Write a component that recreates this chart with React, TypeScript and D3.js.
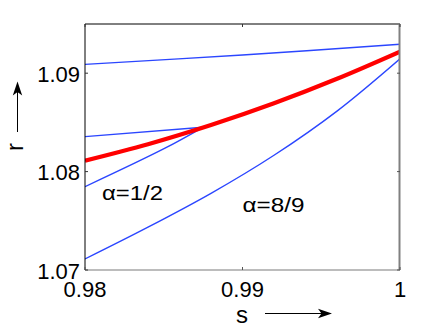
import React from "react";
import * as d3 from "d3";

// ---- data ----
const xTicks = [0.98, 0.99, 1];
const xTickLabels = ["0.98", "0.99", "1"];
const yTicks = [1.07, 1.08, 1.09];
const yTickLabels = ["1.07", "1.08", "1.09"];

// thick red envelope curve
const redS = [0.98, 0.984, 0.988, 0.992, 0.996, 1];
const redR = [1.08111, 1.08278, 1.08473, 1.08694, 1.08943, 1.09219];

// top blue line
const topS = [0.98, 0.99, 1];
const topR = [1.0909, 1.09185, 1.09294];

// short blue line meeting the red curve from above
const upperShortS = [0.98, 0.98749];
const upperShortR = [1.08355, 1.0845];

// short blue line meeting the red curve from below (alpha = 1/2)
const lowerShortS = [0.98, 0.98508, 0.98749];
const lowerShortR = [1.07847, 1.08238, 1.0845];

// lower blue curve (alpha = 8/9)
const lowS = [0.98, 0.984, 0.988, 0.992, 0.996, 1];
const lowR = [1.07112, 1.07435, 1.07779, 1.08166, 1.08615, 1.09147];

const W = 441;
const H = 327;
const L = 85, R = 400, T = 24, B = 270;

export default function App() {
  const x = d3.scaleLinear().domain([0.98, 1]).range([L, R]);
  const y = d3.scaleLinear().domain([1.07, 1.095]).range([B, T]);

  const line = d3
    .line<[number, number]>()
    .x((d) => x(d[0]))
    .y((d) => y(d[1]))
    .curve(d3.curveCatmullRom.alpha(0.5));

  const zip = (a: number[], b: number[]) => a.map((v, i) => [v, b[i]] as [number, number]);

  const blue = "#2b46ff";
  const font = "'Liberation Sans', Arial, Helvetica, sans-serif";

  return (
    <div style={{ position: "fixed", left: 0, top: 0 }}>
      <svg width={W} height={H} style={{ display: "block", background: "#fff" }}>
        <defs>
          <clipPath id="plot">
            <rect x={L} y={T} width={R - L} height={B - T} />
          </clipPath>
        </defs>
        <g clipPath="url(#plot)" fill="none">
          <path d={line(zip(topS, topR)) || ""} stroke={blue} strokeWidth={1.4} />
          <path d={line(zip(upperShortS, upperShortR)) || ""} stroke={blue} strokeWidth={1.4} />
          <path d={line(zip(lowerShortS, lowerShortR)) || ""} stroke={blue} strokeWidth={1.4} />
          <path d={line(zip(lowS, lowR)) || ""} stroke={blue} strokeWidth={1.4} />
          <path d={line(zip(redS, redR)) || ""} stroke="#ff0000" strokeWidth={4.2} />
        </g>

        {/* box */}
        <line x1={L} y1={T} x2={R} y2={T} stroke="#000" strokeWidth={1} />
        <line x1={L} y1={T} x2={L} y2={B} stroke="#000" strokeWidth={1} />
        <line x1={L} y1={B} x2={R} y2={B} stroke="#7a7a7a" strokeWidth={1.2} />
        <line x1={R - 0.5} y1={T} x2={R - 0.5} y2={B} stroke="#808080" strokeWidth={2} />

        {/* ticks */}
        {xTicks.map((t, i) => (
          <g key={"xt" + i}>
            <line x1={x(t)} x2={x(t)} y1={B} y2={B - 3} stroke="#555" />
            <line x1={x(t)} x2={x(t)} y1={T} y2={T + 3} stroke="#333" />
            <text
              x={x(t)}
              y={297}
              textAnchor="middle"
              fontFamily={font}
              fontSize={22}
              fill="#000"
            >
              {xTickLabels[i]}
            </text>
          </g>
        ))}
        {yTicks.map((t, i) => (
          <g key={"yt" + i}>
            <line x1={L} x2={L + 3} y1={y(t)} y2={y(t)} stroke="#333" />
            <line x1={R} x2={R - 3} y1={y(t)} y2={y(t)} stroke="#555" />
            <text
              x={80}
              y={y(t) + 8.5}
              textAnchor="end"
              fontFamily={font}
              fontSize={22}
              fill="#000"
            >
              {yTickLabels[i]}
            </text>
          </g>
        ))}

        {/* annotations */}
        <text
          x={102}
          y={199.5}
          fontFamily={font}
          fontSize={19.5}
          textLength={61}
          lengthAdjust="spacingAndGlyphs"
          fill="#000"
        >
          α=1/2
        </text>
        <text
          x={242.5}
          y={211.5}
          fontFamily={font}
          fontSize={19.5}
          textLength={62}
          lengthAdjust="spacingAndGlyphs"
          fill="#000"
        >
          α=8/9
        </text>

        {/* x label with arrow */}
        <text x={242} y={323} textAnchor="middle" fontFamily={font} fontSize={24} fill="#000">
          s
        </text>
        <line x1={265} y1={313.5} x2={322} y2={313.5} stroke="#000" strokeWidth={1} />
        <path d="M332,313.5 L318,308.8 L321.5,313.5 L318,318.2 Z" fill="#000" />

        {/* y label with arrow */}
        <text
          transform="translate(23,147) rotate(-90)"
          textAnchor="middle"
          fontFamily={font}
          fontSize={24}
          fill="#000"
        >
          r
        </text>
        <line x1={17.5} y1={132} x2={17.5} y2={92} stroke="#000" strokeWidth={1} />
        <path d="M17.5,81.5 L12.8,95.5 L17.5,92 L22.2,95.5 Z" fill="#000" />
      </svg>
    </div>
  );
}
